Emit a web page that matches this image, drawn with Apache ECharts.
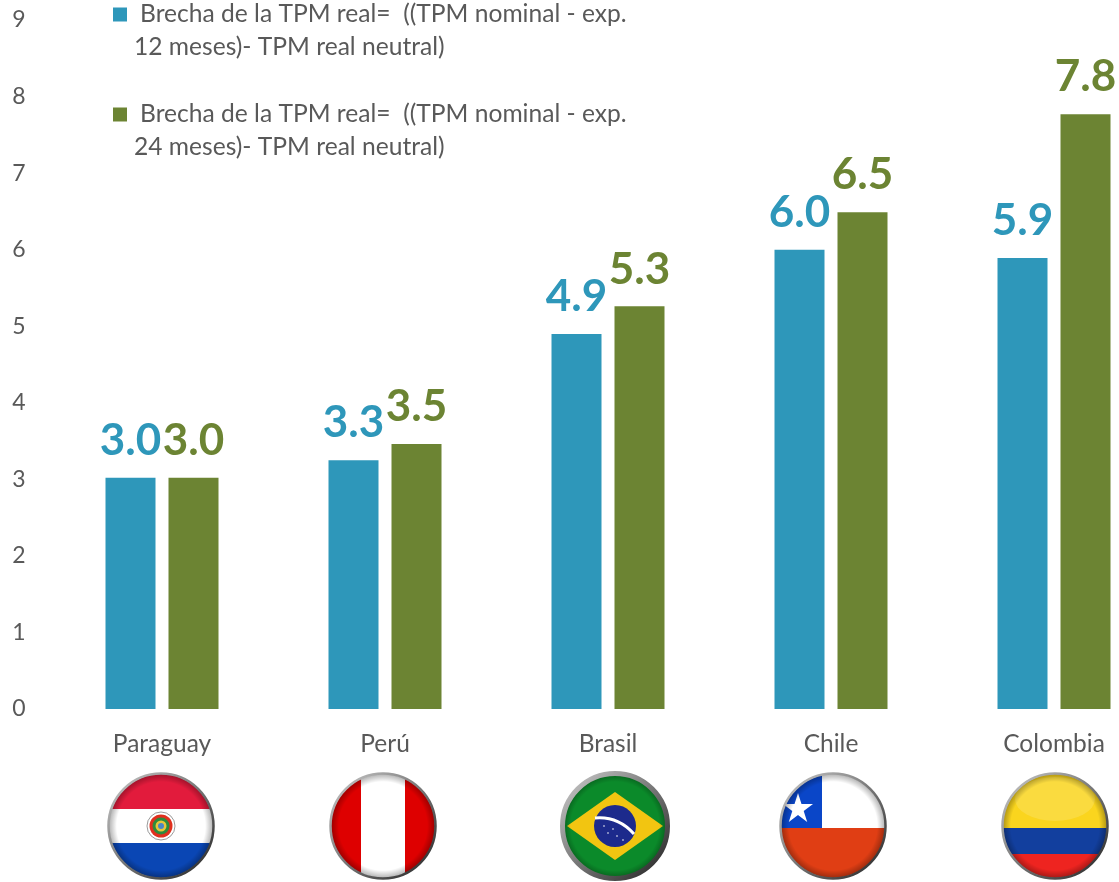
<!DOCTYPE html>
<html>
<head>
<meta charset="utf-8">
<style>
  html, body { margin: 0; padding: 0; background: #fff; overflow: hidden; }
  #wrap { width: 1119px; height: 882px; overflow: hidden; }
  /* chart runs past the window: the last bar pair is not centred in the reference either */
  #main { width: 1170px; height: 882px; }
</style>
<script src="https://cdn.jsdelivr.net/npm/echarts@6/dist/echarts.min.js"></script>
</head>
<body>
<div id="wrap"><div id="main"></div></div>
<script>
var categories = ['Paraguay', 'Perú', 'Brasil', 'Chile', 'Colombia'];
var exp12 = [3.02, 3.25, 4.9, 6.0, 5.89];
var exp24 = [3.02, 3.46, 5.26, 6.49, 7.77];
var name12 = 'Brecha de la TPM real=  ((TPM nominal - exp.\n12 meses)- TPM real neutral)';
var name24 = 'Brecha de la TPM real=  ((TPM nominal - exp.\n24 meses)- TPM real neutral)';

var BLUE = '#2E97BA';
var GREEN = '#6C8433';
var GREY = '#595959';
var FONT = 'Lato';

// flags are only decoration, so plain svg pictures are enough
function flagSvg(id, body) {
  var svg = '<svg xmlns="http://www.w3.org/2000/svg" width="110" height="110" viewBox="0 0 110 110">' +
    '<defs>' +
    '<clipPath id="c"><circle cx="55" cy="55" r="52"/></clipPath>' +
    '<radialGradient id="s"><stop offset="0.85" stop-color="#000" stop-opacity="0"/>' +
    '<stop offset="1" stop-color="#000" stop-opacity="0.3"/></radialGradient>' +
    '<linearGradient id="m" x1="0" y1="0" x2="1" y2="1"><stop offset="0" stop-color="#ccc"/>' +
    '<stop offset="0.5" stop-color="#777"/><stop offset="1" stop-color="#222"/></linearGradient>' +
    '</defs>' +
    '<g clip-path="url(#c)"><rect width="110" height="110" fill="#fff"/>' + body + '</g>' +
    '<circle cx="55" cy="55" r="52" fill="url(#s)"/>' +
    '<circle cx="55" cy="55" r="52.5" fill="none" stroke="url(#m)" stroke-width="' + (id === 'br' ? 5 : 2.5) + '"/>' +
    '</svg>';
  return 'data:image/svg+xml;charset=utf-8,' + encodeURIComponent(svg);
}

var flags = [
  { offset: -1, uri: flagSvg('py',
      '<rect width="110" height="38" fill="#E21B3C"/>' +
      '<rect y="72" width="110" height="38" fill="#0A46B4"/>' +
      '<circle cx="55" cy="55" r="14" fill="#fff" stroke="#555" stroke-width="0.6"/>' +
      '<circle cx="55" cy="55" r="11.5" fill="#E0301E"/>' +
      '<circle cx="55" cy="55" r="8.5" fill="#2E8B3C"/>' +
      '<circle cx="55" cy="55" r="5.5" fill="#E9C53A"/>' +
      '<circle cx="55" cy="55" r="3" fill="#4C86C6"/>') },
  { offset: -2, uri: flagSvg('pe',
      '<rect width="33" height="110" fill="#DE0000"/>' +
      '<rect x="77" width="33" height="110" fill="#DE0000"/>') },
  { offset: 7, uri: flagSvg('br',
      '<rect width="110" height="110" fill="#0B8A2A"/>' +
      '<path d="M0 0A70 70 0 0 0 30 105L0 110Z" fill="#25B04A"/>' +
      '<polygon points="55,21 103,55 55,89 7,55" fill="#F2C511"/>' +
      '<circle cx="55" cy="55" r="21" fill="#1C2A8C"/>' +
      '<path d="M35 47Q58 45 74 63" fill="none" stroke="#fff" stroke-width="3"/>' +
      '<circle cx="48" cy="62" r="0.8" fill="#fff"/><circle cx="57" cy="65" r="0.8" fill="#fff"/>' +
      '<circle cx="63" cy="69" r="0.8" fill="#fff"/><circle cx="44" cy="55" r="0.8" fill="#fff"/>' +
      '<circle cx="53" cy="58" r="0.8" fill="#fff"/>') },
  { offset: 2, uri: flagSvg('cl',
      '<rect width="110" height="57" fill="#fff"/>' +
      '<rect width="44" height="57" fill="#0A46C8"/>' +
      '<rect y="57" width="110" height="53" fill="#E03E14"/>' +
      '<polygon points="20,22 23.5,33 35,33 25.7,40 29.2,51 20,44 10.8,51 14.3,40 5,33 16.5,33" fill="#fff"/>') },
  { offset: 1, uri: flagSvg('co',
      '<rect width="110" height="57" fill="#FAD51E"/>' +
      '<rect y="57" width="110" height="26" fill="#123F9E"/>' +
      '<rect y="83" width="110" height="27" fill="#EE2420"/>' +
      '<ellipse cx="55" cy="28" rx="40" ry="22" fill="#fff" opacity="0.15"/>') }
];

var chart = echarts.init(document.getElementById('main'));

function labelOf(color) {
  return {
    show: true,
    position: 'top',
    distance: 15,
    color: color,
    fontFamily: FONT,
    fontWeight: 'bold',
    fontSize: 44,
    formatter: function (p) { return p.value.toFixed(1); }
  };
}

chart.setOption({
  animation: false,
  backgroundColor: '#fff',
  grid: { left: 50.5, width: 1115, top: 20, height: 689 },
  legend: {
    orient: 'vertical',
    left: 113,
    top: -31,
    padding: 0,
    itemWidth: 14,
    itemHeight: 14,
    itemGap: 9,
    icon: 'rect',
    formatter: function (name) {
      var lines = name.split('\n');
      return '{blank| }\n{first|' + lines[0] + '}\n{second|' + lines[1] + '}';
    },
    textStyle: {
      color: GREY,
      fontFamily: FONT,
      fontSize: 24.6,
      rich: {
        blank: { fontSize: 24.6, lineHeight: 33, fontFamily: FONT },
        first: { fontSize: 24.6, lineHeight: 33, color: GREY, fontFamily: FONT, padding: [0, 0, 0, 8] },
        second: { fontSize: 24.6, lineHeight: 33, color: GREY, fontFamily: FONT, padding: [0, 0, 0, 2] }
      }
    },
    data: [name12, name24]
  },
  xAxis: {
    type: 'category',
    data: categories,
    axisLine: { show: false },
    axisTick: { show: false },
    axisLabel: { color: GREY, fontFamily: FONT, fontSize: 24.5, margin: 23 }
  },
  yAxis: {
    type: 'value',
    min: 0,
    max: 9,
    interval: 1,
    axisLine: { show: false },
    axisTick: { show: false },
    splitLine: { show: false },
    axisLabel: { color: GREY, fontFamily: FONT, fontSize: 23, margin: 25, padding: [5, 0, 0, 0] }
  },
  series: [
    { name: name12, type: 'bar', data: exp12, barWidth: 50, barGap: '26%',
      itemStyle: { color: BLUE }, label: labelOf(BLUE) },
    { name: name24, type: 'bar', data: exp24, barWidth: 50,
      itemStyle: { color: GREEN }, label: labelOf(GREEN) }
  ]
});

chart.setOption({
  graphic: flags.map(function (f, i) {
    var cx = chart.convertToPixel({ xAxisIndex: 0 }, categories[i]) + f.offset;
    return {
      type: 'image',
      silent: true,
      style: { image: f.uri, x: cx - 55, y: 771, width: 110, height: 110 }
    };
  })
});
</script>
</body>
</html>
